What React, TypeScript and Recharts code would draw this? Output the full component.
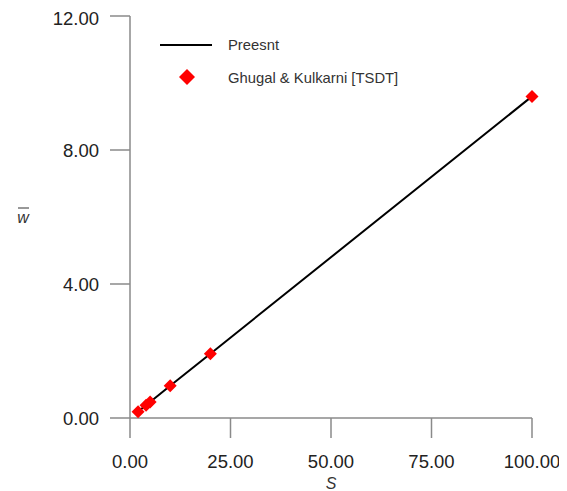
import { ScatterChart, Scatter, XAxis, YAxis } from 'recharts';

// S values (span-to-thickness ratio) and nondimensional deflection
const sValues = [2, 4, 5, 10, 20, 100];
const presentW = [0.19, 0.38, 0.48, 0.96, 1.92, 9.6];
const ghugalW = [0.19, 0.38, 0.48, 0.96, 1.92, 9.6];

const xTicks = [0, 25, 50, 75, 100];
const yTicks = [0, 4, 8, 12];

const FONT = '"Liberation Sans", Arial, sans-serif';

const presentData = sValues.map((s, i) => ({ s, w: presentW[i] }));
const ghugalData = sValues.map((s, i) => ({ s, w: ghugalW[i] }));

const Diamond = (props: any) => {
  const { cx, cy } = props;
  const r = 6.5;
  return (
    <polygon
      points={`${cx},${cy - r} ${cx + r},${cy} ${cx},${cy + r} ${cx - r},${cy}`}
      fill="#ff0000"
    />
  );
};

const NoDot = () => <g />;

const YLabel = (props: any) => {
  const { viewBox } = props;
  const cx = viewBox.x + 15;
  const cy = viewBox.y + viewBox.height / 2;
  return (
    <g>
      <line x1={cx - 5} y1={cy - 9} x2={cx + 6} y2={cy - 9} stroke="#333" strokeWidth={1} />
      <text
        x={cx}
        y={cy}
        textAnchor="middle"
        dominantBaseline="central"
        fontStyle="italic"
        fontSize={16}
        fill="#333"
        fontFamily={FONT}
      >
        w
      </text>
    </g>
  );
};

export default function App() {
  return (
    <div style={{ position: 'relative', width: 559, height: 483, fontFamily: FONT }}>
      <ScatterChart width={559} height={483} margin={{ top: 8, right: 35, left: 0, bottom: 0 }}>
        <XAxis
          type="number"
          dataKey="s"
          domain={[0, 100]}
          ticks={xTicks}
          tickFormatter={(v: number) => v.toFixed(2)}
          tickSize={20}
          tickMargin={17}
          height={73}
          stroke="#8a8a8a"
          strokeWidth={1.5}
          tick={{ fill: '#222', fontSize: 18.5 }}
          label={{ value: 'S', position: 'insideBottom', offset: 2, fontStyle: 'italic', fontSize: 16, fill: '#333' }}
        />
        <YAxis
          type="number"
          dataKey="w"
          domain={[0, 12]}
          ticks={yTicks}
          tickFormatter={(v: number) => v.toFixed(2)}
          tickSize={20}
          tickMargin={11}
          width={122}
          stroke="#8a8a8a"
          strokeWidth={1.5}
          tick={{ fill: '#222', fontSize: 18.5 }}
          label={<YLabel />}
        />
        <Scatter
          name="Preesnt"
          data={presentData}
          line={{ stroke: '#000', strokeWidth: 2 }}
          shape={<NoDot />}
          isAnimationActive={false}
        />
        <Scatter
          name="Ghugal & Kulkarni [TSDT]"
          data={ghugalData}
          shape={<Diamond />}
          isAnimationActive={false}
        />
      </ScatterChart>
      <svg
        width={320}
        height={90}
        style={{ position: 'absolute', left: 140, top: 20 }}
      >
        <line x1={12} y1={17} x2={64} y2={17} stroke="#000" strokeWidth={2} />
        <text x={80} y={17} dominantBaseline="central" fontSize={14.8} fill="#333" fontFamily={FONT}>
          Preesnt
        </text>
        <polygon points="39,41 47,49 39,57 31,49" fill="#ff0000" />
        <text x={80} y={50} dominantBaseline="central" fontSize={14.8} fill="#333" fontFamily={FONT}>
          Ghugal &amp; Kulkarni [TSDT]
        </text>
      </svg>
    </div>
  );
}
